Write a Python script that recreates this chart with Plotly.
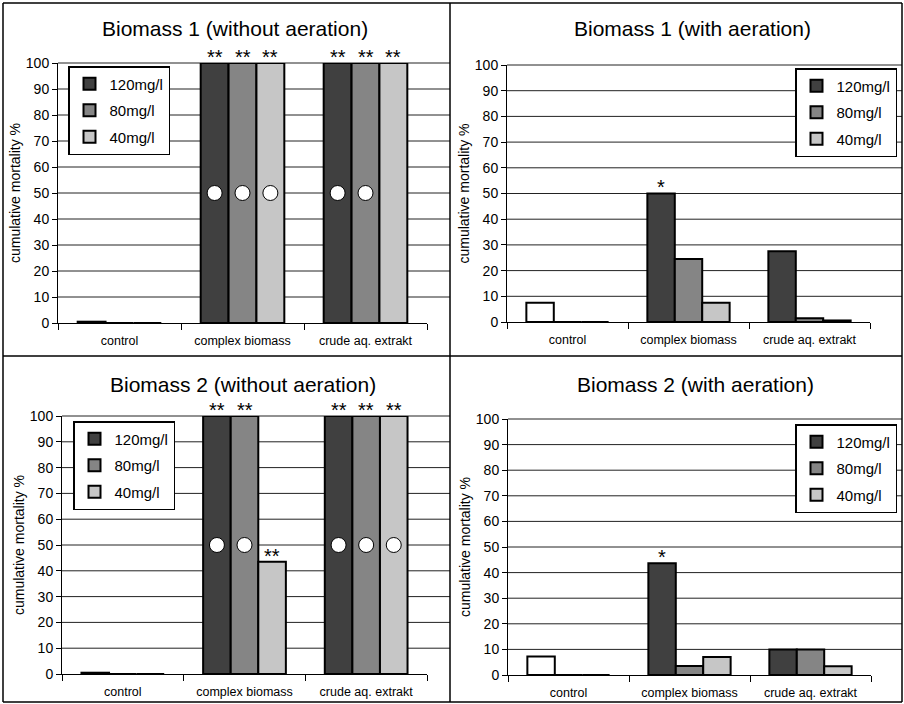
import plotly.graph_objects as go

# ---------------- data ----------------
CATEGORIES = ["control", "complex biomass", "crude aq. extrakt"]
SERIES = ["120mg/l", "80mg/l", "40mg/l"]
SERIES_COLORS = ["#404040", "#858585", "#c6c6c6"]
CONTROL_COLOR = "#ffffff"
PANEL_TITLES = [
    "Biomass 1 (without aeration)",
    "Biomass 1 (with aeration)",
    "Biomass 2 (without aeration)",
    "Biomass 2 (with aeration)",
]
Y_TITLE = "cumulative mortality %"
Y_TICKS = [0, 10, 20, 30, 40, 50, 60, 70, 80, 90, 100]
CIRCLE_LEVEL = 50

# control (untreated) mortality, drawn in the first slot of the control group
control_values = [0.5, 7.5, 0.5, 7.2]

# mortality per series (120, 80, 40 mg/l) for control, complex biomass, crude extract
b1_without_120 = [None, 100, 100]
b1_without_80 = [0, 100, 100]
b1_without_40 = [0, 100, 100]

b1_with_120 = [None, 50, 27.5]
b1_with_80 = [0, 24.5, 1.5]
b1_with_40 = [0, 7.5, 0.6]

b2_without_120 = [None, 100, 100]
b2_without_80 = [0, 100, 100]
b2_without_40 = [0, 43.5, 100]

b2_with_120 = [None, 43.7, 10]
b2_with_80 = [0, 3.5, 10]
b2_with_40 = [0, 7, 3.4]

# significance marks above bars
b1_without_stars = [["", "**", "**"], ["", "**", "**"], ["", "**", "**"]]
b1_with_stars = [["", "*", ""], ["", "", ""], ["", "", ""]]
b2_without_stars = [["", "**", "**"], ["", "**", "**"], ["", "**", "**"]]
b2_with_stars = [["", "*", ""], ["", "", ""], ["", "", ""]]

# white circles at 50 %
b1_without_circles = [[0, 1, 1], [0, 1, 1], [0, 1, 0]]
b1_with_circles = [[0, 0, 0], [0, 0, 0], [0, 0, 0]]
b2_without_circles = [[0, 1, 1], [0, 1, 1], [0, 0, 1]]
b2_with_circles = [[0, 0, 0], [0, 0, 0], [0, 0, 0]]

panel_values = [
    [b1_without_120, b1_without_80, b1_without_40],
    [b1_with_120, b1_with_80, b1_with_40],
    [b2_without_120, b2_without_80, b2_without_40],
    [b2_with_120, b2_with_80, b2_with_40],
]
panel_stars = [b1_without_stars, b1_with_stars, b2_without_stars, b2_with_stars]
panel_circles = [b1_without_circles, b1_with_circles, b2_without_circles, b2_with_circles]

# ---------------- layout geometry (pixels of a 904x704 page) ----------------
W, H = 904, 704
BARGAP = 0.32
FONT = "Arial, Liberation Sans, Helvetica, sans-serif"

# plot boxes: (left, right, top, bottom) in px
boxes = [
    (58, 427, 63, 323),
    (507, 870, 65, 322),
    (62, 427, 416, 674),
    (508, 871, 419, 675),
]
grid_right = [450, 902, 450, 902]
title_pos = [(235, 28), (692, 28), (243, 384), (695, 384)]
# (x, y, xanchor)
legend_pos = [(68, 66, "left"), (897, 68, "right"), (73, 421, "left"), (897, 424, "right")]

fig = go.Figure()
layout = dict(
    width=W, height=H, autosize=False,
    margin=dict(l=0, r=0, t=0, b=0, pad=0, autoexpand=False),
    paper_bgcolor="white",
    plot_bgcolor="rgba(0,0,0,0)",
    barmode="group",
    bargap=BARGAP,
    bargroupgap=0,
    font=dict(family=FONT, color="black", size=14),
    showlegend=True,
)
shapes = []
annotations = []
ymin, ymax = Y_TICKS[0], Y_TICKS[-1]
slot = (1 - BARGAP) / len(SERIES)

for k in range(4):
    idx = "" if k == 0 else str(k + 1)
    xa, ya = "x" + idx, "y" + idx
    leg = "legend" + idx
    l, r, t, b = boxes[k]
    cats_x = list(range(len(CATEGORIES)))

    # control bar (white) shares the first slot
    fig.add_trace(go.Bar(
        x=[cats_x[0]], y=[control_values[k]], xaxis=xa, yaxis=ya,
        offsetgroup="s0", marker=dict(color=CONTROL_COLOR, line=dict(color="black", width=2)),
        showlegend=False, legend=leg, hoverinfo="skip",
    ))
    for j, name in enumerate(SERIES):
        fig.add_trace(go.Bar(
            x=cats_x, y=panel_values[k][j], xaxis=xa, yaxis=ya, name=name,
            offsetgroup="s%d" % j, legend=leg, legendgroup="p%d_%d" % (k, j),
            marker=dict(color=SERIES_COLORS[j], line=dict(color="black", width=2)),
        ))
    # circles and stars
    for j in range(len(SERIES)):
        cx, cy = [], []
        for i in cats_x:
            xpos = i + (j - (len(SERIES) - 1) / 2) * slot
            if panel_circles[k][j][i]:
                cx.append(xpos)
                cy.append(CIRCLE_LEVEL)
            s = panel_stars[k][j][i]
            if s:
                annotations.append(dict(
                    x=xpos, y=panel_values[k][j][i], xref=xa, yref=ya, text=s,
                    showarrow=False, yanchor="middle", yshift=6,
                    font=dict(size=20, family=FONT, color="black"),
                ))
        if cx:
            fig.add_trace(go.Scatter(
                x=cx, y=cy, xaxis=xa, yaxis=ya, mode="markers", showlegend=False,
                marker=dict(size=15, color="white", line=dict(color="black", width=1)),
                hoverinfo="skip", cliponaxis=False,
            ))

    layout["xaxis" + idx] = dict(
        domain=[l / W, r / W], anchor=ya, range=[-0.5, len(CATEGORIES) - 0.5],
        tickmode="array", tickvals=cats_x, ticktext=CATEGORIES,
        ticks="outside", ticklen=6, tickcolor="rgba(0,0,0,0)",
        tickfont=dict(size=12.5, family=FONT, color="black"),
        showline=True, linecolor="black", linewidth=1, showgrid=False, zeroline=False,
        minor=dict(tickmode="array", tickvals=[c - 0.5 for c in cats_x] + [cats_x[-1] + 0.5],
                   ticks="outside", ticklen=6, tickcolor="black", tickwidth=1, showgrid=False),
        fixedrange=True, automargin=False,
    )
    layout["yaxis" + idx] = dict(
        domain=[1 - b / H, 1 - t / H], anchor=xa, range=[ymin, ymax],
        tickmode="array", tickvals=Y_TICKS, ticks="outside", ticklen=5,
        tickcolor="black", tickfont=dict(size=14, family=FONT, color="black"),
        showline=True, linecolor="black", linewidth=1, showgrid=False, zeroline=False,
        title=dict(text=Y_TITLE, font=dict(size=14, family=FONT, color="black"), standoff=1),
        fixedrange=True, automargin=False,
    )
    # gridlines extending to panel border
    ext = (grid_right[k] - l) / (r - l)
    for v in Y_TICKS[1:]:
        frac = (v - ymin) / (ymax - ymin)
        shapes.append(dict(type="line", xref=xa + " domain", yref=ya + " domain",
                           x0=0, x1=ext, y0=frac, y1=frac, layer="below",
                           line=dict(color="#222222", width=1)))
    tx, ty = title_pos[k]
    annotations.append(dict(x=tx / W, y=1 - ty / H, xref="paper", yref="paper",
                            text=PANEL_TITLES[k], showarrow=False,
                            xanchor="center", yanchor="middle",
                            font=dict(size=21, family=FONT, color="black")))
    lx, ly, lanchor = legend_pos[k]
    layout[leg] = dict(
        x=lx / W, y=1 - ly / H, xanchor=lanchor, yanchor="top",
        bordercolor="black", borderwidth=1.5, bgcolor="white",
        font=dict(size=15, family=FONT, color="black"),
        tracegroupgap=4, itemwidth=30,
    )

# panel frame
def px_line(x0, y0, x1, y1):
    return dict(type="line", xref="paper", yref="paper",
                x0=x0 / W, y0=1 - y0 / H, x1=x1 / W, y1=1 - y1 / H,
                line=dict(color="black", width=1.5), layer="above")

shapes += [
    px_line(3, 3, 902, 3), px_line(3, 702, 902, 702),
    px_line(3, 3, 3, 702), px_line(902, 3, 902, 702),
    px_line(450, 3, 450, 702), px_line(3, 356, 902, 356),
]
layout["shapes"] = shapes
layout["annotations"] = annotations
fig.update_layout(**layout)
fig.write_html(
    "out.html",
    config={"displayModeBar": False, "staticPlot": True},
    post_script="document.body.style.margin='0';document.body.style.overflow='hidden';"
                "document.documentElement.style.overflow='hidden';",
)
